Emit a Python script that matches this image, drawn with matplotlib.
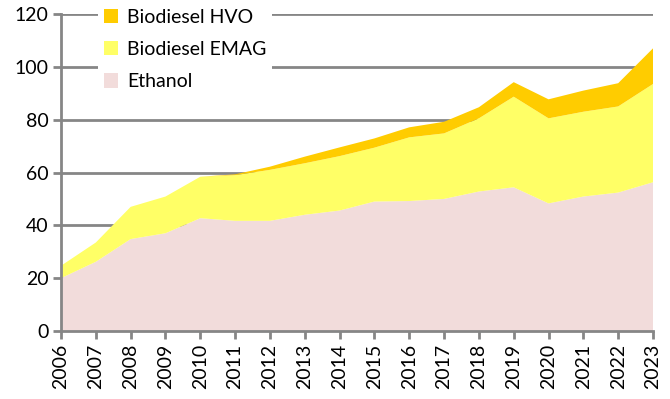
import matplotlib.pyplot as plt

years = list(range(2006, 2024))
ethanol = [20, 26.2, 34.8, 37, 42.7, 41.7, 41.7, 44, 45.6, 49, 49.2, 50, 52.8, 54.4, 48.3, 50.9, 52.4, 56.3]
emag = [4.7, 7.3, 12.2, 13.9, 15.7, 17.3, 19.3, 19.5, 20.6, 20.4, 24.1, 24.8, 27.7, 34.3, 32.2, 32.1, 32.6, 37.2]
hvo = [0, 0, 0, 0, 0, 0.3, 1.2, 2.5, 3.3, 3.5, 3.8, 4.4, 4.2, 5.5, 7.2, 8, 8.8, 13.5]

plt.rcParams['font.family'] = ['Lato', 'DejaVu Sans']

fig = plt.figure(figsize=(6.7, 3.99), dpi=100)
ax = fig.add_axes([61/670, 1 - 331/399, 592/670, 317/399])

ax.stackplot(years, ethanol, emag, hvo,
             colors=['#F2DCDB', '#FFFF66', '#FFCC00'],
             labels=['Ethanol', 'Biodiesel EMAG', 'Biodiesel HVO'],
             linewidth=0, zorder=2)

ax.set_xlim(2006, 2023)
ax.set_ylim(0, 120)
ax.set_yticks(range(0, 121, 20))
ax.set_xticks(years)
ax.set_xticklabels([str(y) for y in years], rotation=90)
ax.grid(axis='y', color='#868686', linewidth=2, zorder=1)
ax.set_axisbelow(True)

for s in ['top', 'right']:
    ax.spines[s].set_visible(False)
for s in ['left', 'bottom']:
    ax.spines[s].set_color('#868686')
    ax.spines[s].set_linewidth(2)
    ax.spines[s].set_zorder(3)
ax.tick_params(colors='#868686', labelcolor='black', labelsize=14,
               length=6, width=2, pad=3)

# legend on white box over the gridlines, top-left
h, l = ax.get_legend_handles_labels()
leg = ax.legend(h[::-1], l[::-1], loc='upper left',
                bbox_to_anchor=(98/670, 1 - 3/399), bbox_transform=fig.transFigure,
                frameon=True, fontsize=14, handlelength=0.75, handleheight=0.75,
                handletextpad=0.45, labelspacing=0.78, borderpad=0.3, borderaxespad=0)
leg.get_frame().set_facecolor('white')
leg.get_frame().set_edgecolor('none')
leg.get_frame().set_alpha(1)
leg.get_frame().set_boxstyle('square', pad=0)

fig.savefig('out.png', dpi=100)
